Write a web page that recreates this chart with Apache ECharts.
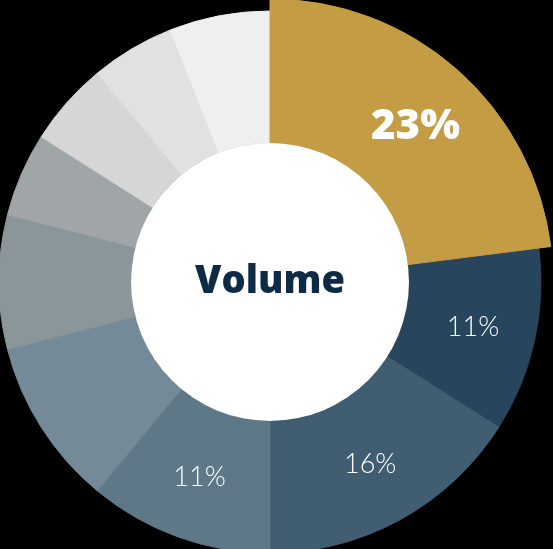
<!DOCTYPE html>
<html>
<head>
<meta charset="utf-8">
<script src="https://cdn.jsdelivr.net/npm/echarts@6/dist/echarts.min.js"></script>
<style>
    html, body { margin: 0; padding: 0; background: #000; }
    #chart { width: 553px; height: 549px; }
</style>
</head>
<body>
<div id="chart"></div>
<script>
// slices, clockwise from 12 o'clock
const segments = ['Seg 1', 'Seg 2', 'Seg 3', 'Seg 4', 'Seg 5', 'Seg 6', 'Seg 7', 'Seg 8', 'Seg 9', 'Seg 10']
const shares = [23, 11, 16, 11, 10, 8, 5, 5, 5, 6]
const showLabel = [true, true, true, true, false, false, false, false, false, false]
const colors = ['#C49C43', '#27465D', '#405D72', '#5F7888', '#748A98', '#8A9699', '#A0A5A8', '#D6D6D6', '#E1E1E1', '#EFEFF0']
const centerText = 'Volume'

const myChart = echarts.init(document.getElementById('chart'))

const center = [270, 282]

// border in the slice's own colour hides the anti-aliasing seams
const baseData = segments.map((name, i) => ({
    name: name,
    value: shares[i],
    itemStyle: { color: colors[i], borderColor: colors[i], borderWidth: 1 },
    label: { show: i > 0 && showLabel[i] }
}))

// first slice drawn again with a bigger outer radius
const highlightData = segments.map((name, i) => ({
    name: name,
    value: shares[i],
    itemStyle: i === 0
        ? { color: colors[i], borderColor: colors[i], borderWidth: 1 }
        : { color: 'transparent', borderWidth: 0 },
    label: { show: i === 0 }
}))

const option = {
    backgroundColor: '#000',
    animation: false,
    series: [
        {
            type: 'pie',
            center: center,
            radius: [139, 271],
            startAngle: 90,
            clockwise: true,
            silent: true,
            label: {
                position: 'inside',
                formatter: '{c}%',
                color: '#fff',
                fontFamily: 'Lato',
                fontWeight: 300,
                fontSize: 27
            },
            labelLine: { show: false },
            data: baseData
        },
        {
            type: 'pie',
            center: center,
            radius: [139, 283],
            startAngle: 90,
            clockwise: true,
            silent: true,
            label: {
                position: 'inside',
                formatter: '{c}%',
                color: '#fff',
                fontFamily: 'Open Sans',
                fontWeight: 800,
                fontSize: 42,
                offset: [4, 6]
            },
            labelLine: { show: false },
            data: highlightData
        },
        {
            type: 'pie',
            center: center,
            radius: [0, 139],
            silent: true,
            itemStyle: { color: '#fff', borderWidth: 0 },
            label: {
                show: true,
                position: 'center',
                formatter: centerText,
                color: '#0E2A45',
                fontFamily: 'Open Sans',
                fontWeight: 800,
                fontSize: 38,
                padding: [0, 0, 14, 0]
            },
            labelLine: { show: false },
            data: [{ name: centerText, value: 1 }]
        }
    ]
}

myChart.setOption(option)
</script>
</body>
</html>
